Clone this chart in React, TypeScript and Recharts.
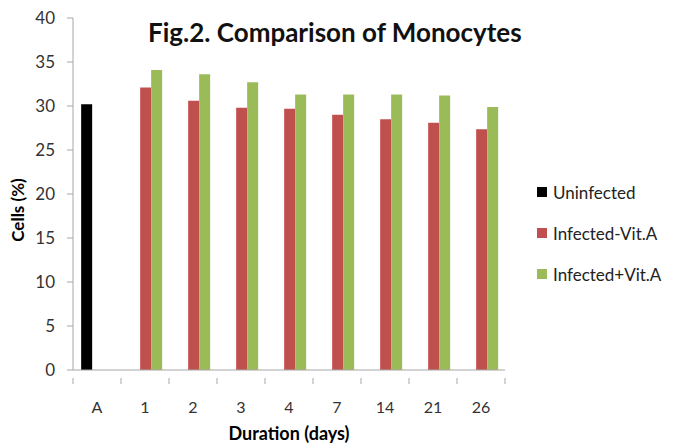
import React from "react";
import { BarChart, Bar, XAxis, YAxis } from "recharts";

const categories = ["A", "1", "2", "3", "4", "7", "14", "21", "26"];
const uninfected: (number | null)[] = [30.2, null, null, null, null, null, null, null, null];
const infectedNoVitA: (number | null)[] = [null, 32.1, 30.6, 29.8, 29.7, 29.0, 28.5, 28.1, 27.35];
const infectedVitA: (number | null)[] = [null, 34.1, 33.6, 32.7, 31.3, 31.3, 31.3, 31.2, 29.9];
const yTicks = [0, 5, 10, 15, 20, 25, 30, 35, 40];

const seriesNames = ["Uninfected", "Infected-Vit.A", "Infected+Vit.A"];
const seriesColors = ["#000000", "#C0504D", "#9BBB59"];

const data = categories.map((c, i) => ({
  cat: c,
  u: uninfected[i],
  inf: infectedNoVitA[i],
  vit: infectedVitA[i],
}));

const W = 679;
const H = 445;
const MARGIN = { top: 18, right: 174, bottom: 0, left: 0 };
const Y_W = 73;
const X_H = 75;
const FONT = "Lato, 'Open Sans', sans-serif";
const AXIS_COLOR = "#A6A6A6";

const bandW = (W - MARGIN.left - MARGIN.right - Y_W) / categories.length;

const XTick = (props: any) => {
  const { x, y, payload, index } = props;
  const last = index === categories.length - 1;
  return (
    <g>
      <line x1={x - bandW / 2} x2={x - bandW / 2} y1={y} y2={y + 6} stroke={AXIS_COLOR} />
      {last && <line x1={x + bandW / 2} x2={x + bandW / 2} y1={y} y2={y + 6} stroke={AXIS_COLOR} />}
      <text x={x} y={y + 35} textAnchor="middle" fontSize={16} fill="#333" fontFamily={FONT}>
        {payload.value}
      </text>
    </g>
  );
};

export default function App() {
  return (
    <div style={{ position: "absolute", left: 0, top: 0, width: W, height: H, background: "#fff" }}>
      <BarChart width={W} height={H} data={data} margin={MARGIN} barCategoryGap="17%" barGap={0}>
        <XAxis
          dataKey="cat"
          height={X_H}
          stroke={AXIS_COLOR}
          tickLine={false}
          tick={<XTick />}
          interval={0}
          label={{
            value: "Duration (days)",
            position: "insideBottom",
            offset: 5,
            style: { fontFamily: FONT, fontWeight: 700, fontSize: 18, fill: "#000" },
          }}
        />
        <YAxis
          width={Y_W}
          domain={[0, 40]}
          ticks={yTicks}
          interval={0}
          stroke={AXIS_COLOR}
          tickSize={6}
          tickMargin={12}
          tick={{ fontSize: 17, fill: "#333", fontFamily: FONT }}
          label={{
            value: "Cells (%)",
            angle: -90,
            position: "insideLeft",
            offset: 18,
            dy: 16,
            style: { fontFamily: FONT, fontWeight: 700, fontSize: 17, fill: "#000", textAnchor: "middle" },
          }}
        />
        <Bar dataKey="u" name={seriesNames[0]} fill={seriesColors[0]} isAnimationActive={false} />
        <Bar dataKey="inf" name={seriesNames[1]} fill={seriesColors[1]} isAnimationActive={false} />
        <Bar dataKey="vit" name={seriesNames[2]} fill={seriesColors[2]} isAnimationActive={false} />
      </BarChart>
      <div
        style={{
          position: "absolute",
          left: 148,
          top: 16,
          fontFamily: FONT,
          fontWeight: 700,
          fontSize: 26,
          color: "#111",
          whiteSpace: "nowrap",
        }}
      >
        Fig.2. Comparison of Monocytes
      </div>
      <div style={{ position: "absolute", left: 537, top: 180, fontFamily: FONT, fontSize: 17, color: "#222" }}>
        {seriesNames.map((n, i) => (
          <div key={n} style={{ display: "flex", alignItems: "center", height: 24, marginBottom: 17 }}>
            <div style={{ width: 10, height: 10, background: seriesColors[i], marginRight: 6 }} />
            <span>{n}</span>
          </div>
        ))}
      </div>
    </div>
  );
}
